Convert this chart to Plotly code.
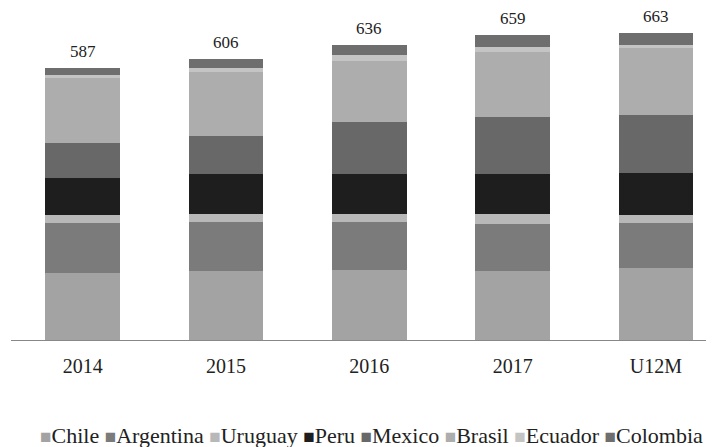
import plotly.graph_objects as go

categories = ["2014", "2015", "2016", "2017", "U12M"]
series_names = ["Chile", "Argentina", "Uruguay", "Peru", "Mexico", "Brasil", "Ecuador", "Colombia"]
chile = [145, 148, 152, 149, 156]
argentina = [108, 107, 102, 101, 97]
uruguay = [17, 17, 17, 22, 17]
peru = [80, 86, 87, 86, 91]
mexico = [76, 83, 113, 124, 125]
brasil = [140, 137, 132, 139, 145]
ecuador = [6, 10, 11, 12, 6]
colombia = [15, 18, 22, 26, 26]
totals = [587, 606, 636, 659, 663]

series_values = [chile, argentina, uruguay, peru, mexico, brasil, ecuador, colombia]
colors = ["#a3a3a3", "#7b7b7b", "#b8b8b8", "#1e1e1e", "#686868", "#adadad", "#c4c4c4", "#6e6e6e"]

fig = go.Figure()
for name, vals, col in zip(series_names, series_values, colors):
    fig.add_trace(go.Bar(x=categories, y=vals, name=name, marker=dict(color=col, line=dict(width=0)),
                         width=0.52, showlegend=False))

for i, tot in enumerate(totals):
    fig.add_annotation(x=i, y=tot, xref="x", yref="y", text=str(tot), showarrow=False,
                       yanchor="bottom", yshift=5,
                       font=dict(family="Liberation Serif", size=17, color="#222222"))

# compact legend as text (square marker + name), like the reference
legend_parts = []
for name, col in zip(series_names, colors):
    legend_parts.append(f"<span style='color:{col};font-size:19px'>■</span>{name}")
legend_text = " ".join(legend_parts)
fig.add_annotation(x=0.5135, y=-0.296, xref="paper", yref="paper", xanchor="center", yanchor="middle",
                   text=legend_text, showarrow=False,
                   font=dict(family="Liberation Serif", size=22, color="#222222"))

fig.update_layout(
    barmode="stack",
    width=706, height=439,
    margin=dict(l=3, r=0, t=8, b=107),
    paper_bgcolor="white", plot_bgcolor="white",
    font=dict(family="Liberation Serif", size=20, color="#222222"),
    xaxis=dict(type="category", range=[-0.5, 4.405], showline=True, linecolor="#888888", linewidth=1,
               ticks="", tickfont=dict(size=20), showgrid=False, ticklabelstandoff=8),
    yaxis=dict(range=[0, 699.2], visible=False, showgrid=False),
    showlegend=False,
)

fig.write_html("out.html")
